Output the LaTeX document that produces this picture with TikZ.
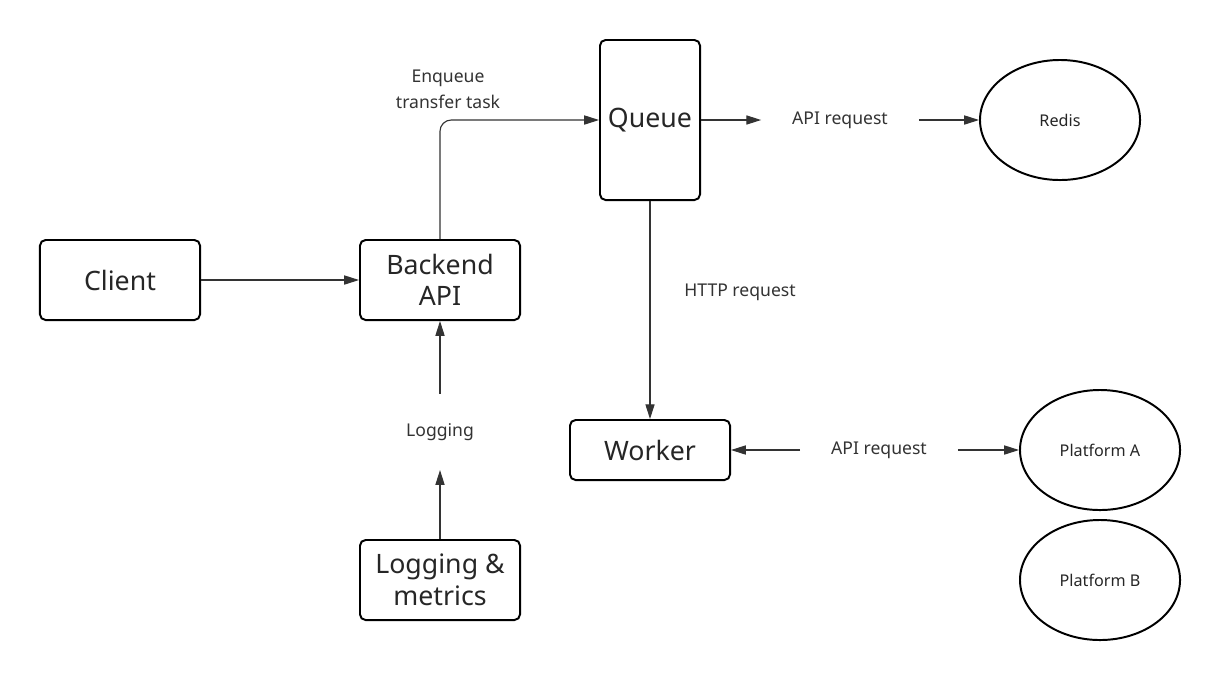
\documentclass[tikz,border=0pt]{standalone}
\usepackage{fontspec}
\setmainfont{Noto Sans}
\usetikzlibrary{arrows.meta,shapes.geometric}
\begin{document}
\begin{tikzpicture}[x=0.025cm,y=-0.025cm,
  box/.style={draw=black,line width=1.4pt,rounded corners=4pt,align=center,inner sep=0pt,font=\fontsize{19}{22.5}\selectfont,text=black!85},
  store/.style={draw=black,line width=1.4pt,ellipse,minimum width=4cm,minimum height=3cm,inner sep=0pt,font=\fontsize{11.5}{13}\selectfont,text=black!85},
  lbl/.style={font=\fontsize{12.5}{15}\selectfont,text=black!80,align=center,inner xsep=0.77cm,inner ysep=0.66cm},
  link/.style={draw=black!80,line width=0.8pt,-{Triangle[length=10.5pt,width=6.5pt]}}]
\useasboundingbox (0,0) rectangle (1220,680);
% boxes
\node[box,minimum width=4cm,minimum height=2cm] (client) at (120,280) {Client};
\node[box,minimum width=4cm,minimum height=2cm] (backend) at (440,280) {Backend\\API};
\node[box,minimum width=2.5cm,minimum height=4cm] (queue) at (650,120) {Queue};
\node[box,minimum width=4cm,minimum height=1.5cm] (worker) at (650,450) {Worker};
\node[box,minimum width=4cm,minimum height=2cm] (logs) at (440,580) {Logging \&\\metrics};
% stores
\node[store] (redis) at (1060,120) {Redis};
\node[store] (platA) at (1100,450) {Platform A};
\node[store] (platB) at (1100,580) {Platform B};
% labels
\node[font=\fontsize{12.5}{18.5}\selectfont,text=black!80,align=center] (enq) at (448,89) {Enqueue\\transfer task};
\node[lbl] (apiR) at (840,120) {API request};
\node[lbl] (apiP) at (879,450) {API request};
\node[font=\fontsize{12.5}{15}\selectfont,text=black!80] (http) at (740,292) {HTTP request};
\node[lbl,inner ysep=0.73cm] (logl) at (440,432) {Logging};
% connectors
\draw[link] (client) -- (backend);
\draw[link,rounded corners=8pt] (backend.north) |- (queue.west);
\draw[link] (queue.east) -- (apiR.west);
\draw[link] (apiR.east) -- (redis.west);
\draw[link] (queue.south) -- (worker.north);
\draw[link] (apiP.west) -- (worker.east);
\draw[link] (apiP.east) -- (platA.west);
\draw[link] (logs.north) -- (logl.south);
\draw[link] (logl.north) -- (backend.south);
\end{tikzpicture}
\end{document}
